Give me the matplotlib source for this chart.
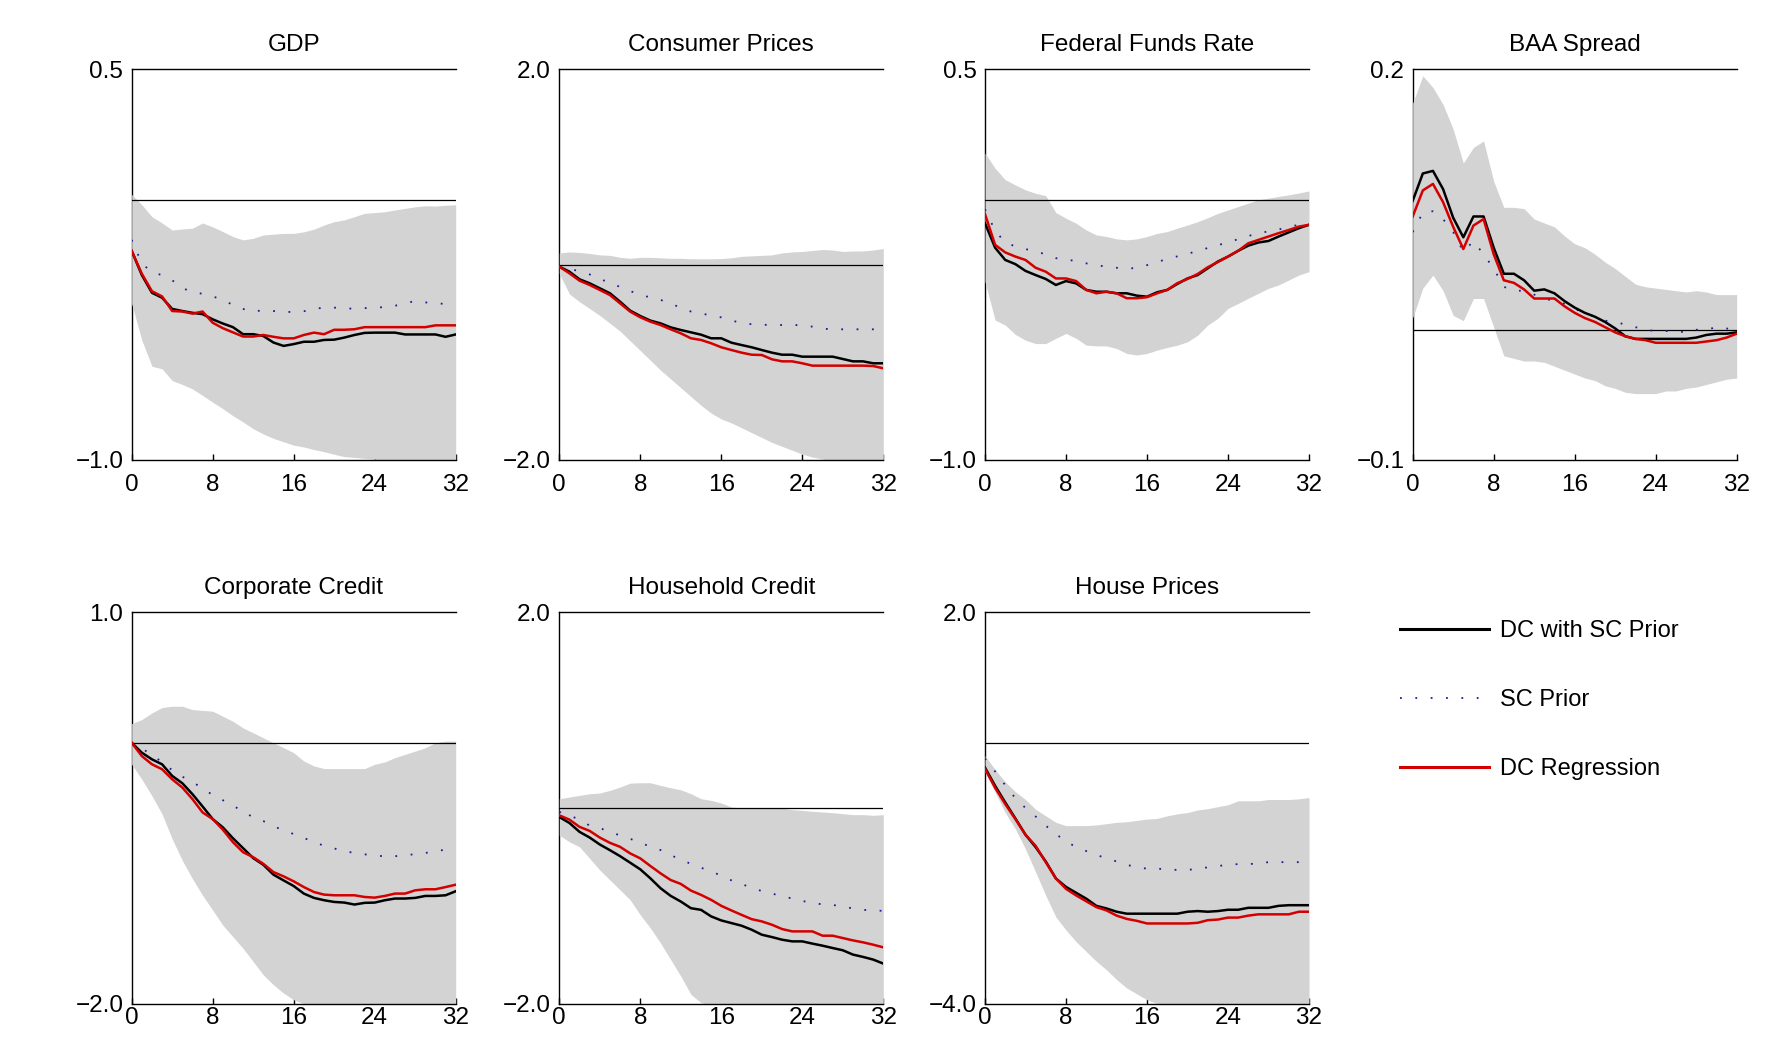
import matplotlib
matplotlib.use("Agg")
import matplotlib.pyplot as plt
from matplotlib.lines import Line2D
import numpy as np

plt.rcParams['font.family'] = ['Liberation Sans', 'DejaVu Sans']

horizons = list(range(33))
xticks = [0, 8, 16, 24, 32]
titles = ["GDP", "Consumer Prices", "Federal Funds Rate", "BAA Spread",
          "Corporate Credit", "Household Credit", "House Prices"]
y_limits = [(-1.0, 0.5), (-2.0, 2.0), (-1.0, 0.5), (-0.1, 0.2),
            (-2.0, 1.0), (-2.0, 2.0), (-4.0, 2.0)]
legend_labels = ["DC with SC Prior", "SC Prior", "DC Regression"]

# ---------------- GDP ----------------
gdp_dc = [-0.197,-0.29,-0.358,-0.377,-0.42,-0.428,-0.435,-0.44,-0.46,-0.476,-0.49,-0.517,-0.517,-0.524,-0.549,-0.562,-0.555,-0.546,-0.546,-0.539,-0.538,-0.53,-0.52,-0.512,-0.511,-0.511,-0.511,-0.518,-0.518,-0.518,-0.518,-0.527,-0.518]
gdp_reg = [-0.197,-0.285,-0.352,-0.372,-0.428,-0.43,-0.438,-0.43,-0.473,-0.494,-0.51,-0.526,-0.526,-0.52,-0.527,-0.533,-0.533,-0.52,-0.511,-0.517,-0.5,-0.5,-0.498,-0.49,-0.49,-0.49,-0.49,-0.49,-0.49,-0.49,-0.483,-0.483,-0.483]
gdp_prior = [-0.155,-0.245,-0.28,-0.29,-0.31,-0.34,-0.355,-0.362,-0.372,-0.385,-0.405,-0.42,-0.43,-0.425,-0.428,-0.431,-0.432,-0.429,-0.42,-0.415,-0.415,-0.418,-0.419,-0.417,-0.415,-0.413,-0.408,-0.398,-0.39,-0.395,-0.398,-0.401,-0.403]
gdp_hi = [0.02,-0.02,-0.066,-0.09,-0.117,-0.113,-0.11,-0.09,-0.105,-0.123,-0.142,-0.155,-0.149,-0.136,-0.133,-0.13,-0.13,-0.124,-0.114,-0.098,-0.085,-0.078,-0.066,-0.053,-0.05,-0.047,-0.04,-0.034,-0.028,-0.024,-0.025,-0.022,-0.02]
gdp_lo = [-0.40,-0.54,-0.64,-0.65,-0.695,-0.71,-0.727,-0.752,-0.778,-0.803,-0.83,-0.854,-0.88,-0.9,-0.917,-0.93,-0.943,-0.95,-0.96,-0.968,-0.978,-0.987,-0.99,-0.994,-0.997,-1.0,-1.01,-1.01,-1.01,-1.01,-1.01,-1.01,-1.01]

# ---------------- Consumer Prices ----------------
cp_dc = [-0.02,-0.072,-0.15,-0.191,-0.242,-0.293,-0.379,-0.471,-0.526,-0.573,-0.601,-0.642,-0.669,-0.693,-0.717,-0.754,-0.754,-0.799,-0.823,-0.846,-0.874,-0.901,-0.922,-0.922,-0.942,-0.942,-0.942,-0.942,-0.966,-0.99,-0.99,-1.01,-1.01]
cp_reg = [-0.02,-0.089,-0.164,-0.208,-0.259,-0.311,-0.396,-0.481,-0.539,-0.584,-0.618,-0.662,-0.703,-0.754,-0.771,-0.805,-0.846,-0.874,-0.901,-0.922,-0.925,-0.969,-0.99,-0.99,-1.01,-1.034,-1.034,-1.034,-1.034,-1.034,-1.034,-1.038,-1.061]
cp_prior = [-0.02,-0.04,-0.07,-0.10,-0.15,-0.18,-0.23,-0.27,-0.31,-0.335,-0.36,-0.40,-0.44,-0.48,-0.50,-0.52,-0.54,-0.57,-0.60,-0.61,-0.615,-0.618,-0.618,-0.618,-0.62,-0.635,-0.655,-0.662,-0.662,-0.662,-0.662,-0.662,-0.662]
cp_hi = [0.12,0.13,0.125,0.115,0.10,0.095,0.075,0.065,0.075,0.075,0.07,0.065,0.065,0.06,0.06,0.06,0.062,0.07,0.085,0.09,0.095,0.10,0.12,0.13,0.135,0.145,0.155,0.15,0.135,0.14,0.14,0.15,0.165]
cp_lo = [-0.09,-0.30,-0.38,-0.45,-0.52,-0.60,-0.68,-0.78,-0.88,-0.98,-1.08,-1.17,-1.26,-1.35,-1.44,-1.52,-1.58,-1.62,-1.67,-1.72,-1.77,-1.82,-1.86,-1.90,-1.94,-1.97,-1.99,-2.02,-2.02,-2.02,-2.02,-2.02,-2.02]

# ---------------- Federal Funds Rate ----------------
ffr_dc = [-0.091,-0.185,-0.232,-0.248,-0.274,-0.29,-0.305,-0.328,-0.313,-0.322,-0.347,-0.354,-0.354,-0.36,-0.36,-0.369,-0.373,-0.356,-0.347,-0.324,-0.303,-0.29,-0.264,-0.238,-0.219,-0.197,-0.177,-0.165,-0.159,-0.142,-0.126,-0.11,-0.097]
ffr_reg = [-0.056,-0.174,-0.203,-0.219,-0.232,-0.262,-0.277,-0.303,-0.303,-0.313,-0.347,-0.36,-0.354,-0.36,-0.379,-0.379,-0.375,-0.36,-0.347,-0.321,-0.305,-0.286,-0.26,-0.24,-0.219,-0.197,-0.168,-0.155,-0.142,-0.129,-0.117,-0.104,-0.097]
ffr_prior = [-0.037,-0.12,-0.165,-0.18,-0.19,-0.2,-0.21,-0.225,-0.232,-0.235,-0.245,-0.252,-0.258,-0.262,-0.266,-0.262,-0.252,-0.24,-0.228,-0.218,-0.208,-0.198,-0.186,-0.175,-0.165,-0.152,-0.14,-0.13,-0.122,-0.115,-0.105,-0.097,-0.097]
ffr_hi = [0.178,0.12,0.076,0.056,0.037,0.024,0.015,-0.05,-0.072,-0.091,-0.117,-0.136,-0.142,-0.151,-0.155,-0.151,-0.142,-0.13,-0.123,-0.11,-0.098,-0.085,-0.07,-0.053,-0.04,-0.027,-0.014,-0.001,0.005,0.012,0.018,0.025,0.033]
ffr_lo = [-0.315,-0.463,-0.482,-0.518,-0.54,-0.553,-0.553,-0.533,-0.514,-0.533,-0.559,-0.562,-0.562,-0.572,-0.591,-0.597,-0.591,-0.578,-0.568,-0.559,-0.546,-0.521,-0.482,-0.456,-0.418,-0.399,-0.379,-0.36,-0.341,-0.328,-0.309,-0.29,-0.277]

# ---------------- BAA Spread ----------------
baa_dc = [0.099,0.12,0.122,0.108,0.086,0.071,0.087,0.087,0.063,0.043,0.043,0.038,0.030,0.031,0.028,0.022,0.017,0.013,0.010,0.006,0.001,-0.005,-0.007,-0.007,-0.007,-0.007,-0.007,-0.007,-0.006,-0.004,-0.003,-0.003,-0.002]
baa_reg = [0.087,0.107,0.112,0.098,0.079,0.062,0.080,0.085,0.058,0.038,0.036,0.031,0.024,0.024,0.024,0.018,0.013,0.009,0.006,0.002,-0.002,-0.005,-0.007,-0.008,-0.010,-0.010,-0.010,-0.010,-0.010,-0.009,-0.008,-0.006,-0.003]
baa_prior = [0.075,0.09,0.091,0.085,0.075,0.06,0.068,0.058,0.047,0.033,0.030,0.030,0.027,0.024,0.022,0.02,0.016,0.013,0.01,0.007,0.006,0.004,0.002,0.0,-0.001,-0.001,-0.001,-0.002,0.0,0.0,0.002,0.001,0.0]
baa_hi = [0.174,0.195,0.186,0.173,0.154,0.128,0.14,0.145,0.114,0.094,0.094,0.093,0.085,0.082,0.079,0.072,0.066,0.063,0.058,0.052,0.047,0.041,0.035,0.033,0.032,0.031,0.03,0.029,0.03,0.029,0.027,0.027,0.027]
baa_lo = [0.009,0.032,0.042,0.030,0.011,0.007,0.024,0.024,0.002,-0.02,-0.022,-0.024,-0.024,-0.025,-0.028,-0.031,-0.034,-0.037,-0.039,-0.043,-0.045,-0.048,-0.049,-0.049,-0.049,-0.047,-0.047,-0.045,-0.044,-0.042,-0.04,-0.038,-0.037]

# ---------------- Corporate Credit ----------------
corp_dc = [0.0,-0.076,-0.127,-0.165,-0.254,-0.31,-0.394,-0.488,-0.585,-0.648,-0.732,-0.808,-0.884,-0.935,-1.011,-1.055,-1.098,-1.156,-1.189,-1.207,-1.22,-1.225,-1.24,-1.227,-1.225,-1.207,-1.194,-1.194,-1.189,-1.174,-1.174,-1.169,-1.138]
corp_reg = [0.0,-0.102,-0.165,-0.203,-0.28,-0.343,-0.432,-0.534,-0.585,-0.666,-0.762,-0.839,-0.877,-0.928,-0.991,-1.024,-1.062,-1.106,-1.144,-1.164,-1.169,-1.169,-1.169,-1.182,-1.187,-1.174,-1.156,-1.156,-1.131,-1.123,-1.123,-1.106,-1.088]
corp_prior = [0.0,-0.045,-0.09,-0.15,-0.21,-0.26,-0.30,-0.35,-0.40,-0.44,-0.48,-0.53,-0.57,-0.60,-0.64,-0.67,-0.70,-0.73,-0.76,-0.79,-0.81,-0.83,-0.845,-0.855,-0.865,-0.87,-0.87,-0.86,-0.855,-0.845,-0.83,-0.82,-0.80]
corp_hi = [0.147,0.178,0.229,0.27,0.28,0.28,0.254,0.248,0.242,0.203,0.165,0.114,0.076,0.038,0.0,-0.038,-0.076,-0.14,-0.178,-0.198,-0.198,-0.198,-0.198,-0.198,-0.165,-0.147,-0.114,-0.089,-0.064,-0.038,0.0,0.013,0.013]
corp_lo = [-0.165,-0.28,-0.407,-0.546,-0.737,-0.902,-1.042,-1.169,-1.283,-1.398,-1.487,-1.576,-1.677,-1.779,-1.855,-1.919,-1.97,-2.0,-2.02,-2.02,-2.02,-2.02,-2.02,-2.02,-2.02,-2.02,-2.02,-2.02,-2.02,-2.02,-2.02,-2.02,-2.02]

# ---------------- Household Credit ----------------
hh_dc = [-0.092,-0.153,-0.244,-0.302,-0.373,-0.431,-0.492,-0.559,-0.627,-0.719,-0.82,-0.898,-0.956,-1.024,-1.041,-1.108,-1.149,-1.176,-1.203,-1.244,-1.295,-1.319,-1.346,-1.363,-1.363,-1.386,-1.407,-1.431,-1.454,-1.498,-1.522,-1.549,-1.59]
hh_reg = [-0.075,-0.119,-0.193,-0.234,-0.302,-0.356,-0.397,-0.464,-0.515,-0.593,-0.668,-0.736,-0.776,-0.844,-0.888,-0.939,-1.0,-1.047,-1.092,-1.136,-1.159,-1.193,-1.237,-1.261,-1.261,-1.261,-1.305,-1.305,-1.329,-1.353,-1.373,-1.397,-1.424]
hh_prior = [-0.04,-0.075,-0.12,-0.18,-0.205,-0.245,-0.28,-0.315,-0.355,-0.395,-0.43,-0.48,-0.53,-0.57,-0.61,-0.65,-0.69,-0.74,-0.78,-0.81,-0.85,-0.875,-0.90,-0.925,-0.95,-0.97,-0.985,-0.99,-1.01,-1.025,-1.04,-1.05,-1.05]
hh_hi = [0.095,0.112,0.129,0.146,0.153,0.18,0.214,0.254,0.258,0.258,0.231,0.207,0.186,0.146,0.095,0.078,0.051,0.01,0.0,0.0,0.0,0.0,0.0,-0.017,-0.024,-0.034,-0.041,-0.048,-0.058,-0.068,-0.068,-0.075,-0.068]
hh_lo = [-0.278,-0.346,-0.397,-0.515,-0.634,-0.736,-0.837,-0.939,-1.092,-1.227,-1.38,-1.549,-1.719,-1.905,-1.99,-2.02,-2.02,-2.02,-2.02,-2.02,-2.02,-2.02,-2.02,-2.02,-2.02,-2.02,-2.02,-2.02,-2.02,-2.02,-2.02,-2.02,-2.02]

# ---------------- House Prices ----------------
hp_dc = [-0.38,-0.66,-0.915,-1.16,-1.41,-1.6,-1.82,-2.08,-2.21,-2.30,-2.39,-2.50,-2.54,-2.59,-2.62,-2.62,-2.62,-2.62,-2.62,-2.62,-2.59,-2.58,-2.59,-2.58,-2.56,-2.56,-2.53,-2.53,-2.53,-2.50,-2.49,-2.49,-2.49]
hp_reg = [-0.40,-0.69,-0.94,-1.17,-1.41,-1.58,-1.83,-2.08,-2.24,-2.34,-2.43,-2.52,-2.57,-2.65,-2.70,-2.73,-2.77,-2.77,-2.77,-2.77,-2.77,-2.76,-2.72,-2.71,-2.68,-2.68,-2.65,-2.63,-2.63,-2.63,-2.63,-2.59,-2.59]
hp_prior = [-0.24,-0.44,-0.65,-0.85,-1.0,-1.13,-1.27,-1.40,-1.51,-1.60,-1.66,-1.72,-1.77,-1.82,-1.87,-1.91,-1.93,-1.93,-1.94,-1.95,-1.95,-1.93,-1.91,-1.89,-1.87,-1.86,-1.86,-1.85,-1.83,-1.83,-1.83,-1.83,-1.83]
hp_hi = [-0.20,-0.41,-0.60,-0.75,-0.87,-1.02,-1.12,-1.22,-1.27,-1.27,-1.27,-1.26,-1.24,-1.22,-1.21,-1.19,-1.17,-1.16,-1.12,-1.09,-1.07,-1.03,-1.01,-0.98,-0.95,-0.89,-0.89,-0.89,-0.87,-0.87,-0.87,-0.86,-0.84]
hp_lo = [-0.45,-0.76,-1.07,-1.32,-1.63,-1.98,-2.34,-2.67,-2.87,-3.05,-3.20,-3.35,-3.48,-3.63,-3.76,-3.85,-3.94,-4.0,-4.02,-4.02,-4.02,-4.02,-4.02,-4.02,-4.02,-4.02,-4.02,-4.02,-4.02,-4.02,-4.02,-4.02,-4.02]

panels = [
    (gdp_lo, gdp_hi, gdp_dc, gdp_prior, gdp_reg),
    (cp_lo, cp_hi, cp_dc, cp_prior, cp_reg),
    (ffr_lo, ffr_hi, ffr_dc, ffr_prior, ffr_reg),
    (baa_lo, baa_hi, baa_dc, baa_prior, baa_reg),
    (corp_lo, corp_hi, corp_dc, corp_prior, corp_reg),
    (hh_lo, hh_hi, hh_dc, hh_prior, hh_reg),
    (hp_lo, hp_hi, hp_dc, hp_prior, hp_reg),
]

W, H = 1771, 1038
fig = plt.figure(figsize=(W / 100, H / 100), dpi=100)

col_left = [131.7, 559.3, 985.0, 1412.7]
col_w = 324.0
row_top = [69.3, 612.3]
row_h = [390.7, 391.4]
row_xpad = [10, 2.5]

band_color = '#d3d3d3'
red = '#d40000'
navy = '#1c1c96'

for i, (title, ylim, data) in enumerate(zip(titles, y_limits, panels)):
    r, c = divmod(i, 4)
    left = col_left[c] / W
    bottom = 1 - (row_top[r] + row_h[r]) / H
    ax = fig.add_axes([left, bottom, col_w / W, row_h[r] / H])
    lo, hi, dc, prior, reg = data
    ax.fill_between(horizons, lo, hi, color=band_color, linewidth=0, zorder=3)
    ax.axhline(0, color='black', linewidth=0.9, zorder=3.5)
    ax.plot(horizons, prior, color=navy, linewidth=1.3, linestyle=(0, (1, 7.5)), zorder=4)
    ax.plot(horizons, dc, color='black', linewidth=1.8, zorder=4.5)
    ax.plot(horizons, reg, color=red, linewidth=1.8, zorder=5)
    ax.set_xlim(0, 32)
    ax.set_ylim(*ylim)
    ax.set_xticks(xticks)
    ax.set_xticklabels([str(t) for t in xticks])
    ax.set_yticks(list(ylim))
    ax.set_yticklabels([f"{v:.1f}".replace('-', '\u2212') for v in ylim])
    ax.tick_params(axis='x', direction='in', length=4, width=1, pad=row_xpad[r], labelsize=17.5)
    ax.tick_params(axis='y', length=0, pad=6, labelsize=17.5)
    ax.spines['right'].set_visible(False)
    for s in ['left', 'top', 'bottom']:
        ax.spines[s].set_linewidth(1.0)
    ax.spines['bottom'].set_zorder(6)
    ax.spines['top'].set_zorder(6)
    ax.spines['left'].set_zorder(2.5)
    ax.set_title(title, fontsize=17.5, pad=13)

handles = [
    Line2D([], [], color='black', linewidth=2.2),
    Line2D([], [], color=navy, linewidth=1.3, linestyle=(0, (1, 7.5))),
    Line2D([], [], color=red, linewidth=2.2),
]
fig.legend(handles, legend_labels, loc='upper left',
           bbox_to_anchor=(1400 / W, 1 - 620 / H), frameon=False,
           fontsize=17, handlelength=3.75, handletextpad=0.5,
           labelspacing=2.0, borderpad=0, borderaxespad=0)

fig.savefig('out.png', dpi=100, facecolor='white')
